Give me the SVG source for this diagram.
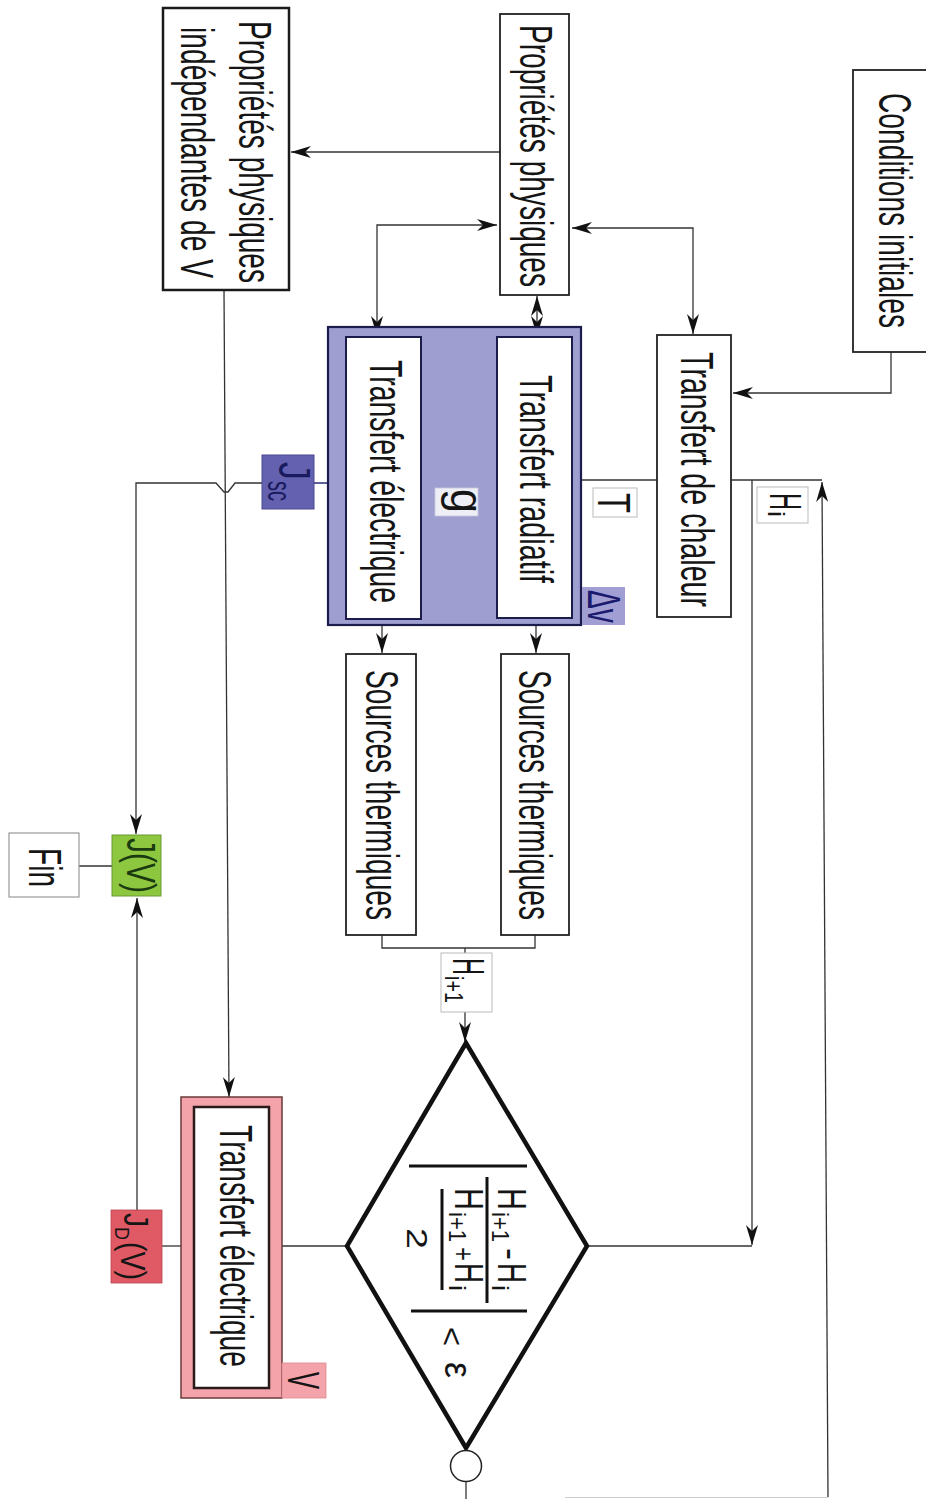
<svg xmlns="http://www.w3.org/2000/svg" width="926" height="1499" viewBox="0 0 926 1499">
<style>
.t{font-family:"Liberation Sans",Arial,sans-serif;fill:#151515;}
.box{fill:#fff;stroke:#222;stroke-width:1.8;}
.c{fill:none;stroke:#333;stroke-width:1.3;}
.nv{fill:none;stroke:#1c1c6e;stroke-width:1.4;}
.rd{fill:none;stroke:#b0202a;stroke-width:1.4;}
</style>
<defs>
<marker id="ar" markerWidth="20" markerHeight="12" refX="20" refY="6" orient="auto-start-reverse" markerUnits="userSpaceOnUse">
<path d="M0,0 L20,6 L0,12 L6,6 Z" fill="#111"/>
</marker>
</defs>
<rect width="926" height="1499" fill="#fff"/>

<g id="connectors">
<path class="c" d="M500,152 L291,152" marker-end="url(#ar)"/>
<path class="c" d="M497,225 L377,225 L377,336" marker-start="url(#ar)" marker-end="url(#ar)"/>
<path class="c" d="M572,228 L693,228 L693,334" marker-start="url(#ar)" marker-end="url(#ar)"/>
<path class="c" d="M537,296 L537,336" marker-start="url(#ar)" marker-end="url(#ar)"/>
<path class="c" d="M891,352 L891,393 L733,393" marker-end="url(#ar)"/>
<path class="c" d="M262,483 L235,483 L228,492 L224,492 L216,483 L136,483 L136,834" marker-end="url(#ar)"/>
<path class="c" d="M224,290 L229,1097" marker-end="url(#ar)"/>
<path class="nv" d="M314,483 L346,483"/>
<path class="nv" d="M421,480 L497,480"/>
<path class="nv" d="M572,480 L581,480"/>
<path class="c" d="M581,480 L657,480"/>
<path class="c" d="M731,480 L822,480"/>
<path class="c" d="M382,619 L382,653" marker-end="url(#ar)"/>
<path class="c" d="M536,619 L536,653" marker-end="url(#ar)"/>
<path class="c" d="M382,935 L382,948 L535,948 L535,935"/>
<path class="c" d="M465,948 L465,1042" marker-end="url(#ar)"/>
<path class="c" d="M587,1246 L752,1246"/>
<path class="c" d="M752,480 L752,1245" marker-end="url(#ar)"/>
<path class="c" d="M828,1497 L822,482" marker-end="url(#ar)"/>
<path d="M565,1497.5 L828,1497.5" fill="none" stroke="#ccc" stroke-width="1"/>
<path class="c" d="M466,1482 L466,1499"/>
<path class="c" d="M347,1246 L282,1246"/>
<path class="rd" d="M282,1246 L269,1246"/>
<path class="rd" d="M194,1246 L182,1246"/>
<path class="c" d="M182,1246 L162,1246"/>
<path class="c" d="M137,1210 L137,898" marker-end="url(#ar)"/>
<path class="c" d="M79,866 L112,866"/>
</g>

<g id="prop-indep">
<rect x="163" y="8" width="126" height="282" fill="#fff" stroke="#1a1a1a" stroke-width="2.5"/>
<text class="t" font-size="46" transform="translate(239,21) rotate(90)" textLength="262" lengthAdjust="spacingAndGlyphs">Propriétés physiques</text>
<text class="t" font-size="46" transform="translate(181,27) rotate(90)" textLength="251" lengthAdjust="spacingAndGlyphs">indépendantes de V</text>
</g>

<g id="prop-phys">
<rect class="box" x="500" y="14" width="69" height="281"/>
<text class="t" font-size="46" transform="translate(520,25) rotate(90)" textLength="262" lengthAdjust="spacingAndGlyphs">Propriétés physiques</text>
</g>

<g id="conditions">
<rect class="box" x="853" y="70" width="76" height="282"/>
<text class="t" font-size="46" transform="translate(879,93) rotate(90)" textLength="235" lengthAdjust="spacingAndGlyphs">Conditions initiales</text>
</g>

<g id="transfert-chaleur">
<rect class="box" x="657" y="335" width="74" height="282"/>
<text class="t" font-size="46" transform="translate(681,352) rotate(90)" textLength="255" lengthAdjust="spacingAndGlyphs">Transfert de chaleur</text>
</g>

<g id="dv-container">
<rect x="328" y="327" width="253" height="298" fill="#9f9ed1" stroke="#1c1c4c" stroke-width="2.2"/>
</g>

<g id="transfert-electrique-1">
<rect x="346" y="337" width="75" height="282" fill="#fff" stroke="#1c1c4c" stroke-width="2"/>
<text class="t" font-size="46" transform="translate(370,360) rotate(90)" textLength="243" lengthAdjust="spacingAndGlyphs">Transfert électrique</text>
</g>

<g id="transfert-radiatif">
<rect x="497" y="337" width="75" height="281" fill="#fff" stroke="#1c1c4c" stroke-width="2"/>
<text class="t" font-size="46" transform="translate(520,375) rotate(90)" textLength="208" lengthAdjust="spacingAndGlyphs">Transfert radiatif</text>
</g>

<g id="label-g">
<rect x="435" y="488" width="43" height="28" fill="#eeeef6" stroke="#c8c8dc" stroke-width="0.8"/>
<text class="t" font-size="46" transform="translate(451,489) rotate(90)" textLength="24" lengthAdjust="spacingAndGlyphs">g</text>
</g>

<g id="label-T">
<rect x="593" y="488" width="44" height="29" fill="#fff" stroke="#bbb" stroke-width="1"/>
<text class="t" font-size="46" transform="translate(598,493) rotate(90)" textLength="20" lengthAdjust="spacingAndGlyphs">T</text>
</g>

<g id="label-dv">
<rect x="582" y="587" width="43" height="38" fill="#a09ed2"/>
<text class="t" font-size="46" transform="translate(588,590) rotate(90)" textLength="33" lengthAdjust="spacingAndGlyphs" style="fill:#1a1a6e">Δv</text>
</g>

<g id="label-jsc">
<rect x="262" y="455" width="52" height="54" fill="#6462b0" stroke="#4a4890" stroke-width="1"/>
<text class="t" font-size="44" transform="translate(279,462) rotate(90)" textLength="18" lengthAdjust="spacingAndGlyphs" style="fill:#1a1a5e">J</text>
<text class="t" font-size="34" transform="translate(268,481) rotate(90)" textLength="20" lengthAdjust="spacingAndGlyphs" style="fill:#1a1a5e">sc</text>
</g>

<g id="sources-1">
<rect class="box" x="346" y="654" width="70" height="281"/>
<text class="t" font-size="46" transform="translate(366,670) rotate(90)" textLength="250" lengthAdjust="spacingAndGlyphs">Sources thermiques</text>
</g>

<g id="sources-2">
<rect class="box" x="501" y="654" width="68" height="281"/>
<text class="t" font-size="46" transform="translate(519,670) rotate(90)" textLength="250" lengthAdjust="spacingAndGlyphs">Sources thermiques</text>
</g>

<g id="label-hi1">
<rect x="441" y="953" width="51" height="59" fill="#fff" stroke="#bbb" stroke-width="1"/>
<text class="t" font-size="44" transform="translate(453,958) rotate(90)" textLength="17" lengthAdjust="spacingAndGlyphs">H</text>
<text class="t" font-size="26" transform="translate(445,976) rotate(90)" textLength="27" lengthAdjust="spacingAndGlyphs">i+1</text>
</g>

<g id="label-hi">
<rect x="757" y="487" width="51" height="36" fill="#fff" stroke="#bbb" stroke-width="1"/>
<text class="t" font-size="44" transform="translate(770,493) rotate(90)" textLength="17" lengthAdjust="spacingAndGlyphs">H</text>
<text class="t" font-size="24" transform="translate(768,511) rotate(90)" textLength="6" lengthAdjust="spacingAndGlyphs">i</text>
</g>

<g id="decision">
<polygon points="466,1043 587,1246 466,1448 347,1246" fill="#fff" stroke="#111" stroke-width="4.5" stroke-linejoin="miter"/>
<g transform="translate(466,1245) rotate(90)">
<line x1="-79" y1="-61" x2="-79" y2="57" stroke="#111" stroke-width="3"/>
<line x1="66" y1="-61" x2="66" y2="55" stroke="#111" stroke-width="3"/>
<line x1="-68" y1="-21" x2="58" y2="-21" stroke="#111" stroke-width="3"/>
<line x1="-56" y1="24" x2="45" y2="24" stroke="#111" stroke-width="3"/>
<text class="t" font-size="40" x="-57" y="-32" textLength="22" lengthAdjust="spacingAndGlyphs">H</text>
<text class="t" font-size="24" x="-33" y="-26" textLength="30" lengthAdjust="spacingAndGlyphs">i+1</text>
<text class="t" font-size="38" x="3" y="-32" textLength="12" lengthAdjust="spacingAndGlyphs">-</text>
<text class="t" font-size="40" x="18" y="-32" textLength="20" lengthAdjust="spacingAndGlyphs">H</text>
<text class="t" font-size="24" x="40" y="-26" textLength="6" lengthAdjust="spacingAndGlyphs">i</text>
<text class="t" font-size="40" x="-57" y="11" textLength="22" lengthAdjust="spacingAndGlyphs">H</text>
<text class="t" font-size="24" x="-33" y="17" textLength="30" lengthAdjust="spacingAndGlyphs">i+1</text>
<text class="t" font-size="30" x="2" y="13" textLength="14" lengthAdjust="spacingAndGlyphs">+</text>
<text class="t" font-size="40" x="18" y="11" textLength="20" lengthAdjust="spacingAndGlyphs">H</text>
<text class="t" font-size="24" x="40" y="17" textLength="6" lengthAdjust="spacingAndGlyphs">i</text>
<text class="t" font-size="30" x="-17" y="59" textLength="21" lengthAdjust="spacingAndGlyphs">2</text>
<text class="t" font-size="32" x="82" y="25" textLength="19" lengthAdjust="spacingAndGlyphs">&lt;</text>
<text class="t" font-size="38" x="117" y="21" textLength="16" lengthAdjust="spacingAndGlyphs">ε</text>
</g>
</g>

<g id="end-circle">
<circle cx="466" cy="1466" r="15.5" fill="#fff" stroke="#222" stroke-width="1.5"/>
</g>

<g id="v-container">
<rect x="181" y="1097" width="101" height="301" fill="#f4a3aa" stroke="#6a3a3a" stroke-width="1.5"/>
</g>

<g id="transfert-electrique-2">
<rect x="194" y="1107" width="75" height="281" fill="#fff" stroke="#2a1a1a" stroke-width="2.5"/>
<text class="t" font-size="46" transform="translate(220,1125) rotate(90)" textLength="242" lengthAdjust="spacingAndGlyphs">Transfert électrique</text>
</g>

<g id="label-v">
<rect x="282" y="1363" width="44" height="35" fill="#f4a3aa" stroke="#e08890" stroke-width="0.8"/>
<text class="t" font-size="44" transform="translate(288,1372) rotate(90)" textLength="17" lengthAdjust="spacingAndGlyphs">V</text>
</g>

<g id="label-jd">
<rect x="111" y="1210" width="51" height="73" fill="#e05a65" stroke="#b84450" stroke-width="0.8"/>
<text class="t" font-size="35" transform="translate(124,1213) rotate(90)" textLength="14" lengthAdjust="spacingAndGlyphs">J</text>
<text class="t" font-size="21" transform="translate(115,1227) rotate(90)" textLength="13" lengthAdjust="spacingAndGlyphs">D</text>
<text class="t" font-size="35" transform="translate(121,1242) rotate(90)" textLength="38" lengthAdjust="spacingAndGlyphs">(V)</text>
</g>

<g id="label-jv">
<rect x="112" y="835" width="49" height="61" fill="#8dc63f" stroke="#6a9a30" stroke-width="1"/>
<text class="t" font-size="40" transform="translate(127,838) rotate(90)" textLength="55" lengthAdjust="spacingAndGlyphs" style="fill:#1a3a10">J(V)</text>
</g>

<g id="fin">
<rect x="9" y="833" width="70" height="64" fill="#fff" stroke="#999" stroke-width="1.2"/>
<text class="t" font-size="46" transform="translate(29,848) rotate(90)" textLength="39" lengthAdjust="spacingAndGlyphs">Fin</text>
</g>
</svg>
